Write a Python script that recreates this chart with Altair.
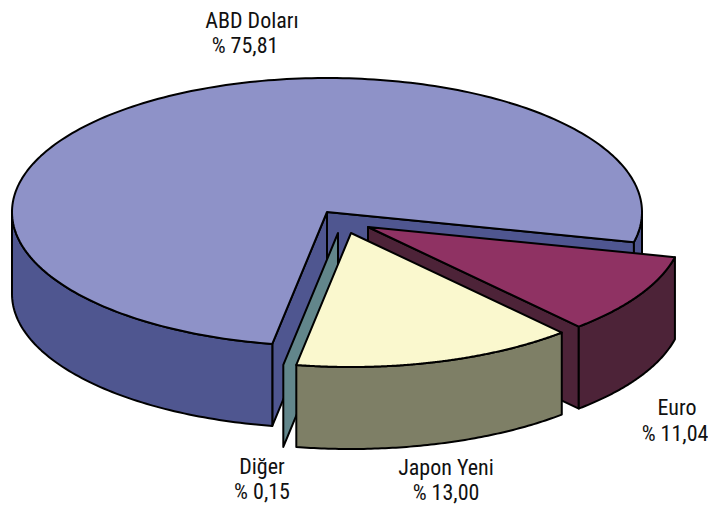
import math
import altair as alt
import pandas as pd

# Currency shares and their labels
names = ["ABD Doları", "Euro", "Japon Yeni", "Diğer"]
shares = ["% 75,81", "% 11,04", "% 13,00", "% 0,15"]
label_x = [252, 677, 446, 262]
label_y1 = [21, 408, 468, 467]
label_y2 = [46, 434, 493, 492]
label_x2 = [245, 675, 446, 262]

# Rim angles (degrees, clockwise from 3 o'clock, as drawn in perspective)
start_angle = [100, 13, 48, 100]
end_angle = [373, 48, 100, 100.3]
# Slice apex positions (exploded)
apex_x = [327, 368, 351, 338]
apex_y = [212, 227, 233, 233]
top_colors = ["#8E92C8", "#8F3263", "#FAF8CE", "#62868B"]
side_colors = ["#4F5690", "#4D2338", "#7E7F66", "#62868B"]

RX, RY, DEPTH = 315, 134, 82
STROKE = 2


def rim(k, a0, a1, n=80, drop=0):
    pts = []
    for j in range(n + 1):
        t = math.radians(a0 + (a1 - a0) * j / n)
        pts.append((apex_x[k] + RX * math.cos(t), apex_y[k] + RY * math.sin(t) + drop))
    return pts


def side(k, a0, a1):
    return rim(k, a0, a1) + rim(k, a1, a0, drop=DEPTH)


def wall(k, a):
    p = rim(k, a, a, n=1)[0]
    ax, ay = apex_x[k], apex_y[k]
    return [(ax, ay), p, (p[0], p[1] + DEPTH), (ax, ay + DEPTH)]


def top(k):
    return [(apex_x[k], apex_y[k])] + rim(k, start_angle[k], end_angle[k], n=240)


parts = [
    (wall(0, start_angle[0]), side_colors[0]),
    (wall(0, end_angle[0]), side_colors[0]),
    (side(0, 100, 180), side_colors[0]),
    (side(0, 360, 373), side_colors[0]),
    (top(0), top_colors[0]),
    (wall(1, end_angle[1]), side_colors[1]),
    (side(1, start_angle[1], end_angle[1]), side_colors[1]),
    (top(1), top_colors[1]),
    (wall(3, start_angle[3]), side_colors[3]),
    (side(2, start_angle[2], end_angle[2]), side_colors[2]),
    (top(2), top_colors[2]),
]

x_scale = alt.Scale(domain=[8, 708], nice=False, zero=False)
y_scale = alt.Scale(domain=[504, 8], nice=False, zero=False)
X = alt.X("x:Q", scale=x_scale, axis=None)
Y = alt.Y("y:Q", scale=y_scale, axis=None)

layers = []
for pts, col in parts:
    df = pd.DataFrame({"x": [p[0] for p in pts], "y": [p[1] for p in pts], "i": range(len(pts))})
    layers.append(
        alt.Chart(df)
        .mark_line(interpolate="linear-closed", fill=col, stroke="black",
                   strokeWidth=STROKE, strokeJoin="round", clip=False)
        .encode(x=X, y=Y, order="i:Q")
    )

labels = pd.DataFrame({
    "x": label_x + label_x2,
    "y": label_y1 + label_y2,
    "t": names + shares,
})
layers.append(
    alt.Chart(labels)
    .mark_text(font="Roboto Condensed, Roboto, sans-serif", fontSize=22, color="#111111",
               align="center", baseline="middle")
    .encode(x=X, y=Y, text="t:N")
)

chart = (
    alt.layer(*layers)
    .properties(width=700, height=496, padding=0, background="white",
                autosize=alt.AutoSizeParams(type="none"))
    .configure_view(stroke=None)
)
chart.save("out.html", embed_options={"renderer": "svg", "actions": False})
